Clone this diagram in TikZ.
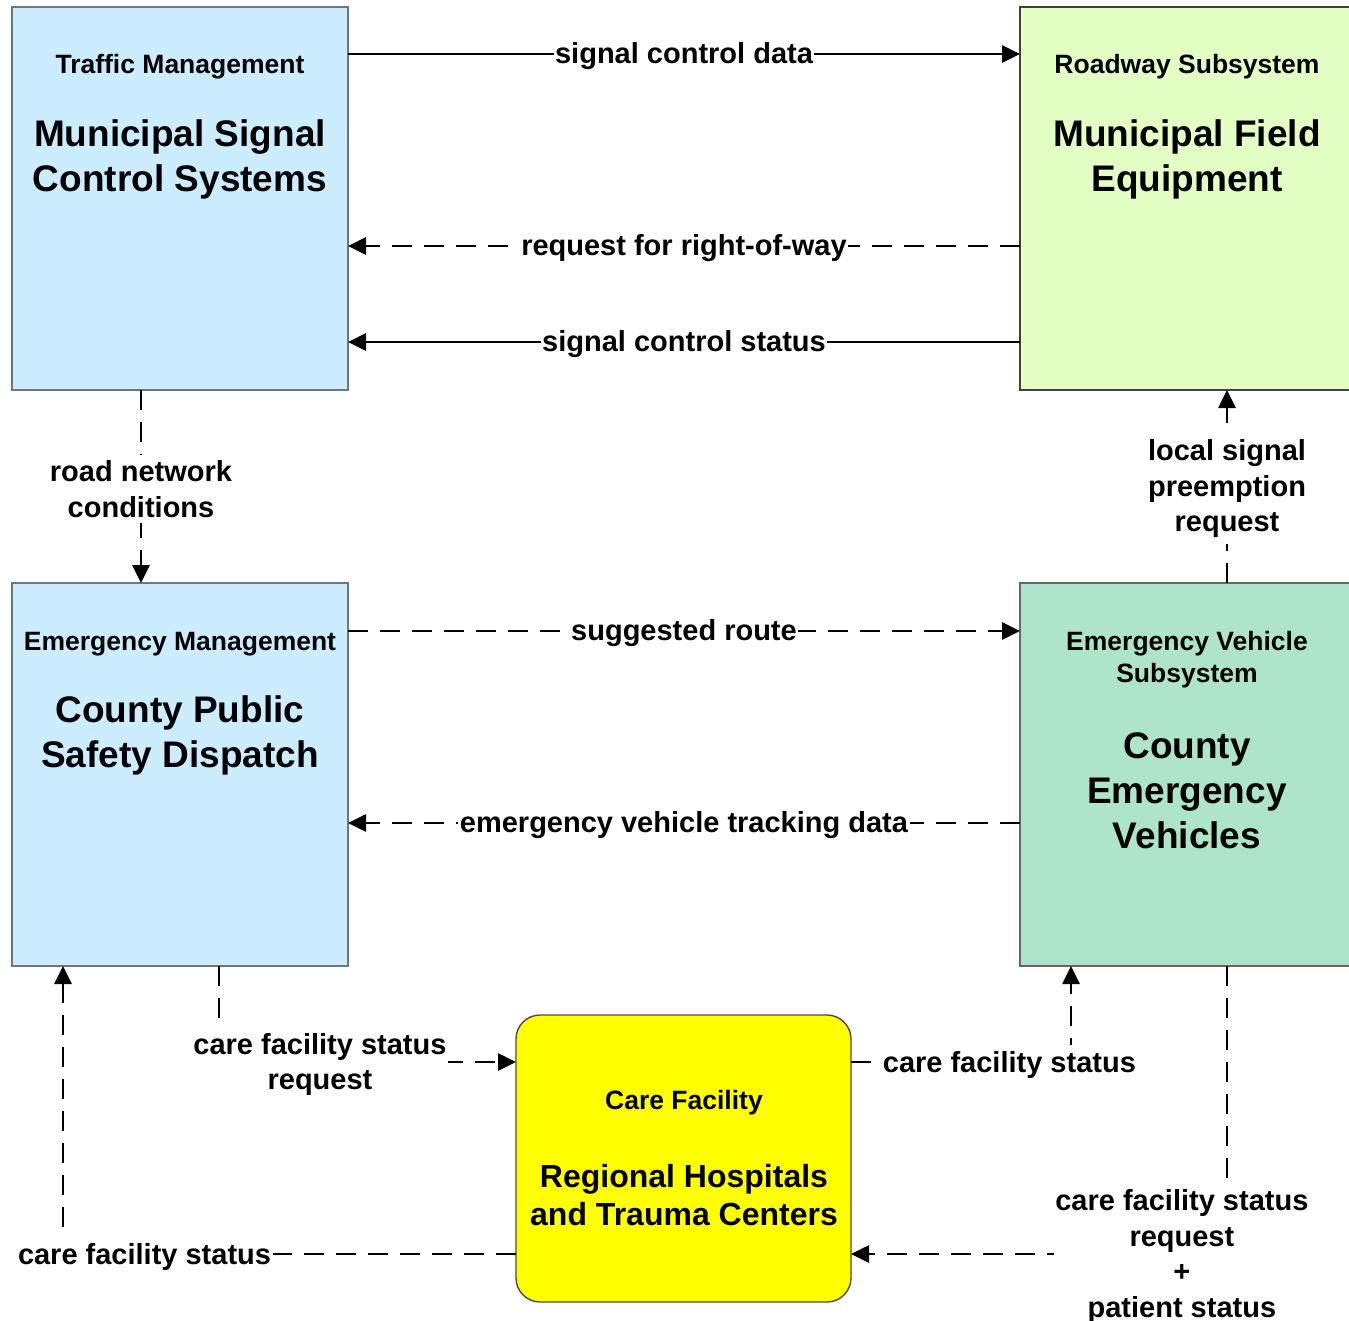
\documentclass[tikz,border=0pt]{standalone}
\usepackage{fontspec}
\setmainfont{Liberation Sans}
\usetikzlibrary{arrows.meta,calc}
\definecolor{tmblue}{HTML}{CCECFF}
\definecolor{rsgreen}{HTML}{E3FFC4}
\definecolor{evgreen}{HTML}{AEE5C9}
\definecolor{cfyellow}{HTML}{FFFF00}
\definecolor{bordergray}{HTML}{6A7785}
\begin{document}
\begin{tikzpicture}[x=1pt,y=-1pt,
  boxbase/.style={line width=1.4pt, inner sep=0pt, outer sep=0pt, anchor=north west},
  hdr/.style={font=\fontsize{26.5}{32}\selectfont\bfseries, align=center, inner sep=0pt},
  ttl/.style={font=\fontsize{37}{45}\selectfont\bfseries, align=center, inner sep=0pt},
  cfttl/.style={font=\fontsize{32}{38}\selectfont\bfseries, align=center, inner sep=0pt},
  lbl/.style={font=\fontsize{29}{35.5}\selectfont\bfseries, align=center, fill=white, inner xsep=1.5pt, inner ysep=6pt, yshift=-2.5pt},
  flow/.style={line width=2.7pt, -{Triangle[length=18pt,width=17pt]}},
  dflow/.style={flow, dash pattern=on 20pt off 12pt},
]
\useasboundingbox (0,0) rectangle (1349,1321);
\fill[white] (0,0) rectangle (1349,1321);

% boxes
\node[boxbase, draw=bordergray, fill=tmblue, minimum width=336pt, minimum height=383pt] (tm) at (12,7) {};
\node[boxbase, draw=black!75, fill=rsgreen, minimum width=340pt, minimum height=383pt] (rs) at (1020,7) {};
\node[boxbase, draw=bordergray, fill=tmblue, minimum width=336pt, minimum height=383pt] (em) at (12,583) {};
\node[boxbase, draw=black!60, fill=evgreen, minimum width=340pt, minimum height=383pt] (ev) at (1020,583) {};
\node[boxbase, draw=black!70, fill=cfyellow, rounded corners=24pt, minimum width=335pt, minimum height=287pt] (cf) at (516,1015) {};

% box texts
\node[hdr] (tmh) at (180,67) {Traffic Management};
\node[ttl] (tmt) at (180,159.5) {Municipal Signal\\Control Systems};
\node[hdr] (rsh) at (1187,67) {Roadway Subsystem};
\node[ttl] (rst) at (1187,159.5) {Municipal Field\\Equipment};
\node[hdr] (emh) at (180,644) {Emergency Management};
\node[ttl] (emt) at (180,735.5) {County Public\\Safety Dispatch};
\node[hdr] (evh) at (1187,660) {Emergency Vehicle\\Subsystem};
\node[ttl] (evt) at (1187,790.5) {County\\Emergency\\Vehicles};
\node[hdr] (cfh) at (684,1103) {Care Facility};
\node[cfttl] (cft) at (684,1195.5) {Regional Hospitals\\and Trauma Centers};

% connectors
\draw[flow] ($(tm.north east)+(0,47)$) -- node[lbl]{signal control data} ($(rs.north west)+(0,47)$);
\draw[dflow] ($(rs.north west)+(0,239)$) -- node[lbl]{request for right-of-way} ($(tm.north east)+(0,239)$);
\draw[flow] ($(rs.north west)+(0,335)$) -- node[lbl]{signal control status} ($(tm.north east)+(0,335)$);
\draw[dflow] ($(tm.south west)+(129,0)$) -- node[lbl]{road network\\conditions} ($(em.north west)+(129,0)$);
\draw[dflow] ($(ev.north west)+(207,0)$) -- node[lbl]{local signal\\preemption\\request} ($(rs.south west)+(207,0)$);
\draw[dflow] ($(em.north east)+(0,48)$) -- node[lbl]{suggested route} ($(ev.north west)+(0,48)$);
\draw[dflow] ($(ev.north west)+(0,240)$) -- node[lbl]{emergency vehicle tracking data} ($(em.north east)+(0,240)$);
\draw[dflow] ($(em.south west)+(207,0)$) |- node[lbl,pos=0.67]{care facility status\\request} ($(cf.north west)+(0,47)$);
\draw[dflow] ($(cf.south west)+(0,-48)$) -| node[lbl,pos=0.41]{care facility status} ($(em.south west)+(51,0)$);
\draw[dflow] ($(cf.north east)+(0,47)$) -| node[lbl,pos=0.36]{care facility status} ($(ev.south west)+(51,0)$);
\draw[dflow] ($(ev.south west)+(207,0)$) |- node[lbl,pos=0.56]{care facility status\\request\\+\\patient status} ($(cf.south east)+(0,-48)$);
\end{tikzpicture}
\end{document}
